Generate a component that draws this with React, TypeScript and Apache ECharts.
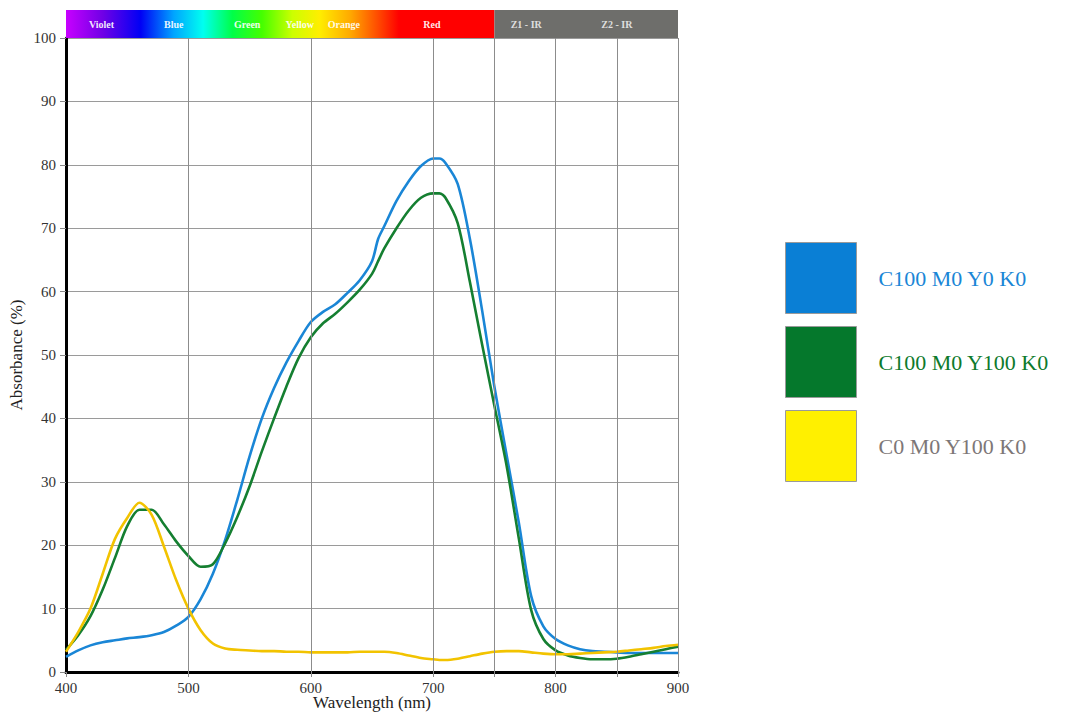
import React, { useEffect, useRef } from 'react';
import * as echarts from 'echarts';

const wavelengths = [
  400, 410, 420, 430, 440, 450, 460, 470, 480, 490, 500, 510, 520, 530, 540, 550, 560, 570, 580, 590,
  600, 610, 620, 630, 640, 650, 655, 660, 670, 680, 690, 700, 705, 710, 720, 730, 740, 750, 760, 770,
  780, 790, 800, 810, 820, 830, 840, 850, 860, 870, 880, 890, 900,
];

const cyanValues = [
  2.4, 3.4, 4.2, 4.7, 5.0, 5.3, 5.5, 5.8, 6.3, 7.3, 8.7, 11.5, 15.5, 20.8, 27.2, 34.0, 40.0, 44.8, 48.8, 52.2,
  55.2, 56.8, 58.0, 59.8, 61.8, 64.8, 68.3, 70.3, 74.3, 77.4, 79.8, 81.0, 81.0, 80.3, 77.0, 68.3, 57.0, 45.0, 34.2, 23.5,
  12.0, 7.2, 5.2, 4.2, 3.6, 3.3, 3.2, 3.1, 3.0, 3.0, 3.0, 3.0, 3.0,
];

const greenValues = [
  3.5, 5.8, 8.8, 13.0, 18.0, 23.0, 25.6, 25.6, 23.3, 20.6, 18.3, 16.6, 17.0, 20.3, 24.5, 29.3, 34.8, 40.0, 45.0, 49.5,
  52.8, 55.0, 56.5, 58.3, 60.3, 62.8, 64.8, 66.8, 70.0, 72.8, 74.8, 75.5, 75.5, 74.8, 70.8, 61.5, 51.6, 42.0, 32.5, 21.0,
  9.8, 5.2, 3.4, 2.6, 2.2, 2.0, 2.0, 2.1, 2.4, 2.8, 3.2, 3.6, 4.0,
];

const yellowValues = [
  3.2, 6.3, 10.0, 15.5, 21.0, 24.3, 26.7, 24.8, 19.8, 14.5, 10.0, 6.6, 4.5, 3.7, 3.5, 3.4, 3.3, 3.3, 3.2, 3.2,
  3.1, 3.1, 3.1, 3.1, 3.2, 3.2, 3.2, 3.2, 3.0, 2.6, 2.2, 2.0, 1.9, 1.9, 2.1, 2.5, 2.9, 3.2, 3.3, 3.3,
  3.1, 2.9, 2.8, 2.8, 2.9, 3.0, 3.1, 3.2, 3.4, 3.6, 3.8, 4.1, 4.3,
];

const seriesNames = ['C100 M0 Y0 K0', 'C100 M0 Y100 K0', 'C0 M0 Y100 K0'];
const xLabelValues = [400, 500, 600, 700, 800, 900];
const xGridValues = [500, 600, 700, 750, 800, 850, 900];
const xTickValues = [400, 500, 600, 700, 750, 800, 850, 900];
const bandLabels = ['Violet', 'Blue', 'Green', 'Yellow', 'Orange', 'Red', 'Z1 - IR', 'Z2 - IR'];
const bandLabelNm = [429, 488, 548, 591, 627, 699, 776, 850];
const spectrumStopNm = [400, 430, 461, 488, 512, 536, 560, 585, 607, 632, 655, 672, 750];
const spectrumStopColors = ['#c800ff', '#7000e6', '#0000f5', '#00a4ff', '#00fff0', '#00ff48', '#44ff00', '#ccff00', '#ffee00', '#ffaa00', '#ff4a00', '#ff0000', '#ff0000'];

const FONT = '"Liberation Serif", "Times New Roman", serif';
const LINE_COLORS = ['#1a86d6', '#157f31', '#f2c300'];
const BOX_COLORS = ['#0a7fd5', '#05782c', '#fff000'];
const TEXT_COLORS = ['#1a86d6', '#0d7a2c', '#7d7777'];

export default function App() {
  const ref = useRef<HTMLDivElement>(null);

  useEffect(() => {
    if (!ref.current) return;
    const chart = echarts.init(ref.current, null, { renderer: 'svg' });
    const valuesList = [cyanValues, greenValues, yellowValues];

    const option: any = {
      animation: false,
      backgroundColor: '#ffffff',
      textStyle: { fontFamily: FONT },
      grid: { left: 66, top: 38, width: 612, height: 634, containLabel: false, outerBoundsMode: 'none' },
      legend: {
        orient: 'vertical',
        left: 785,
        top: 242,
        padding: 0,
        itemWidth: 71,
        itemHeight: 71,
        itemGap: 12,
        icon: 'rect',
        selectedMode: false,
        itemStyle: { borderColor: '#9a9a9a', borderWidth: 1 },
        textStyle: { fontSize: 22, fontFamily: FONT, padding: [0, 0, 0, 17] },
        data: seriesNames.map((n, i) => ({
          name: n,
          itemStyle: { color: BOX_COLORS[i], borderColor: '#9a9a9a', borderWidth: 1 },
          textStyle: { color: TEXT_COLORS[i] },
        })),
      },
      xAxis: {
        type: 'value',
        min: 400,
        max: 900,
        interval: 100,
        name: 'Wavelength (nm)',
        nameLocation: 'middle',
        nameGap: 22,
        nameMoveOverlap: false,
        nameTextStyle: { fontSize: 17, color: '#222', fontFamily: FONT, lineHeight: 17 },
        axisLine: { show: true, onZero: false, lineStyle: { color: '#000', width: 3 } },
        axisTick: { show: true, length: 5, customValues: xTickValues, lineStyle: { color: '#888' } },
        axisLabel: { fontSize: 15, color: '#333', fontFamily: FONT, margin: 8, customValues: xLabelValues },
        splitLine: { show: false },
      },
      yAxis: {
        type: 'value',
        min: 0,
        max: 100,
        interval: 10,
        name: 'Absorbance (%)',
        nameLocation: 'middle',
        nameGap: 41,
        nameMoveOverlap: false,
        nameTextStyle: { fontSize: 17, color: '#222', fontFamily: FONT },
        axisLine: { show: true, lineStyle: { color: '#000', width: 3 } },
        axisTick: { show: true, length: 6, lineStyle: { color: '#888' } },
        axisLabel: { fontSize: 15, color: '#333', fontFamily: FONT, margin: 10 },
        splitLine: { show: true, lineStyle: { color: '#9a9a9a', width: 1 } },
      },
      series: [
        {
          type: 'line',
          name: '__grid',
          data: [],
          z: 1,
          silent: true,
          markLine: {
            silent: true,
            symbol: ['none', 'none'],
            label: { show: false },
            lineStyle: { color: '#8c8c8c', width: 1, type: 'solid' },
            data: xGridValues.map((v) => ({ xAxis: v })),
          },
        },
        ...seriesNames.map((n, i) => ({
          type: 'line',
          name: n,
          z: 3,
          smooth: 0.3,
          showSymbol: false,
          symbol: 'none',
          lineStyle: { color: LINE_COLORS[i], width: 2.6 },
          itemStyle: { color: BOX_COLORS[i] },
          data: wavelengths.map((w, k) => [w, valuesList[i][k]]),
        })),
      ],
    };
    chart.setOption(option);

    const px = (nm: number) => chart.convertToPixel({ xAxisIndex: 0 }, nm) as number;
    const py = (v: number) => chart.convertToPixel({ yAxisIndex: 0 }, v) as number;
    const x400 = px(400);
    const x750 = px(750);
    const x900 = px(900);
    const yTop = py(100);
    const bandH = 28;
    const bandY = yTop - bandH;

    const stops = spectrumStopNm.map((nm, i) => ({
      offset: (nm - 400) / (750 - 400),
      color: spectrumStopColors[i],
    }));

    const graphic: any[] = [
      {
        type: 'rect',
        shape: { x: x400, y: bandY, width: x750 - x400, height: bandH },
        style: { fill: new echarts.graphic.LinearGradient(0, 0, 1, 0, stops) },
        z: 10,
      },
      {
        type: 'rect',
        shape: { x: x750, y: bandY, width: x900 - x750, height: bandH },
        style: { fill: '#6e6e6b' },
        z: 10,
      },
      ...bandLabels.map((t, i) => ({
        type: 'text',
        x: px(bandLabelNm[i]),
        y: bandY + bandH / 2,
        z: 11,
        style: {
          text: t,
          fill: i >= 6 ? '#e6e6e6' : '#ffffff',
          opacity: i >= 6 ? 0.95 : 0.92,
          font: `bold 10px ${FONT}`,
          textAlign: 'center',
          textVerticalAlign: 'middle',
        },
      })),
    ];
    chart.setOption({ graphic });

    return () => chart.dispose();
  }, []);

  return <div ref={ref} style={{ position: 'fixed', left: 0, top: 0, width: 1067, height: 715 }} />;
}
